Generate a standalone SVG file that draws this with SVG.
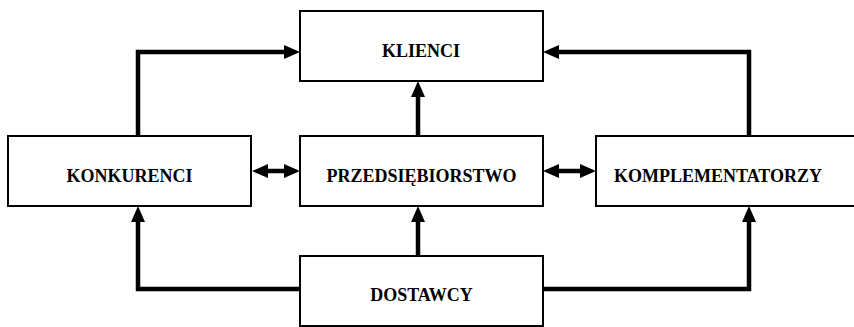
<svg xmlns="http://www.w3.org/2000/svg" width="854" height="327" viewBox="0 0 854 327">
  <style>
    .box { fill: #ffffff; stroke: #000000; stroke-width: 2; }
    .lbl { font-family: "Liberation Serif", "Times New Roman", serif; font-weight: bold; font-size: 18px; fill: #000000; text-anchor: middle; }
    .conn { fill: none; stroke: #000000; stroke-width: 4.5; stroke-linejoin: miter; }
  </style>
  <defs>
    <marker id="ah" markerUnits="userSpaceOnUse" viewBox="0 0 16 14" markerWidth="16" markerHeight="14" refX="2" refY="7" orient="auto-start-reverse">
      <path d="M0,0 L16,7 L0,14 z" fill="#000000"/>
    </marker>
  </defs>
  <rect width="854" height="327" fill="#ffffff"/>

  <g id="connectors">
    <path class="conn" d="M138,136 V52 H286" marker-end="url(#ah)"/>
    <path class="conn" d="M749,136 V52 H557" marker-end="url(#ah)"/>
    <path class="conn" d="M418,136 V95" marker-end="url(#ah)"/>
    <path class="conn" d="M418,256 V220" marker-end="url(#ah)"/>
    <path class="conn" d="M300,289 H138 V220" marker-end="url(#ah)"/>
    <path class="conn" d="M543,289 H749 V220" marker-end="url(#ah)"/>
    <path class="conn" d="M266,171 H286" marker-start="url(#ah)" marker-end="url(#ah)"/>
    <path class="conn" d="M557,171 H582" marker-start="url(#ah)" marker-end="url(#ah)"/>
  </g>

  <g id="klienci">
    <rect class="box" x="300" y="11" width="243" height="70"/>
    <text class="lbl" x="421" y="56.5">KLIENCI</text>
  </g>
  <g id="konkurenci">
    <rect class="box" x="8" y="136" width="243" height="70"/>
    <text class="lbl" x="129.5" y="182">KONKURENCI</text>
  </g>
  <g id="przedsiebiorstwo">
    <rect class="box" x="300" y="136" width="243" height="70"/>
    <text class="lbl" x="421.5" y="182">PRZEDSIĘBIORSTWO</text>
  </g>
  <g id="komplementatorzy">
    <rect class="box" x="596" y="136" width="262" height="70"/>
    <text class="lbl" x="718" y="182">KOMPLEMENTATORZY</text>
  </g>
  <g id="dostawcy">
    <rect class="box" x="300" y="256" width="243" height="70"/>
    <text class="lbl" x="421.5" y="300.5">DOSTAWCY</text>
  </g>
</svg>
